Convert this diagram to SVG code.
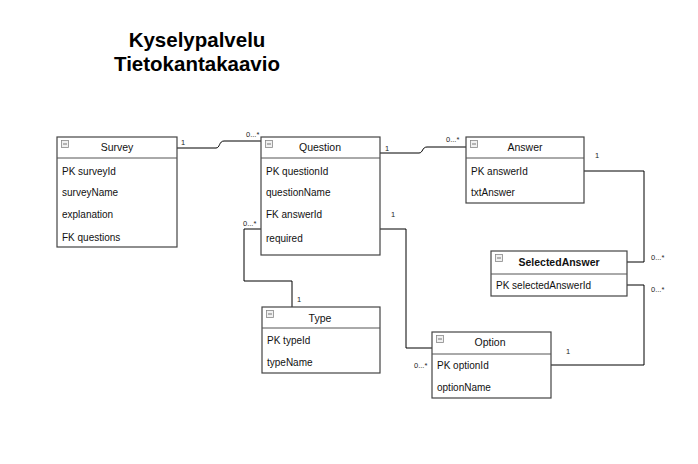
<svg xmlns="http://www.w3.org/2000/svg" width="698" height="464" viewBox="0 0 698 464">
<style>
.box{fill:#fff;stroke:#444;stroke-width:1.2}
.sep{stroke:#555;stroke-width:1}
.t{font-family:"Liberation Sans",Arial,sans-serif;font-size:10px;fill:#111}
.h{font-family:"Liberation Sans",Arial,sans-serif;font-size:10.5px;fill:#111;text-anchor:middle}
.hb{font-weight:bold}
.lbl{font-family:"Liberation Sans",Arial,sans-serif;font-size:7.5px;fill:#222}
.title{font-family:"Liberation Sans",Arial,sans-serif;font-size:20.5px;font-weight:bold;fill:#000;text-anchor:middle}
.ico{fill:#f0f0f0;stroke:#888;stroke-width:0.8}
.icl{stroke:#777;stroke-width:1}
.c{fill:none;stroke:#000;stroke-width:1}
</style>
<defs>
<g id="icon"><rect class="ico" x="0.5" y="0.5" width="7" height="7"/><line class="icl" x1="2" y1="4" x2="6" y2="4"/></g>
</defs>
<rect width="698" height="464" fill="#fff"/>
<text class="title" x="197" y="47">Kyselypalvelu</text>
<text class="title" x="197" y="71">Tietokantakaavio</text>

<g id="connectors">
<path class="c" d="M177 148 H216 C220 148 219 141 224 141 H261"/>
<path class="c" d="M380 153 H419 C423 153 422 147 427 147 H466"/>
<path class="c" d="M584 171 H644 V262 H627"/>
<path class="c" d="M627 285 H644 V365 H551"/>
<path class="c" d="M380 229 H406 V348 H432"/>
<path class="c" d="M261 229 H244 V281 H292 V307"/>
<text class="lbl" x="181" y="145">1</text>
<text class="lbl" x="246" y="137">0...*</text>
<text class="lbl" x="385" y="151">1</text>
<text class="lbl" x="446" y="142">0...*</text>
<text class="lbl" x="595" y="158">1</text>
<text class="lbl" x="651" y="260">0...*</text>
<text class="lbl" x="651" y="292">0...*</text>
<text class="lbl" x="566" y="354">1</text>
<text class="lbl" x="391" y="217">1</text>
<text class="lbl" x="414" y="368">0...*</text>
<text class="lbl" x="243" y="226">0...*</text>
<text class="lbl" x="297" y="302">1</text>
</g>

<g id="survey">
<rect class="box" x="57" y="137" width="120" height="110"/>
<line class="sep" x1="57" y1="158" x2="177" y2="158"/>
<use href="#icon" x="61" y="140"/>
<text class="h" x="117" y="151">Survey</text>
<text class="t" x="62" y="175">PK surveyId</text>
<text class="t" x="62" y="196">surveyName</text>
<text class="t" x="62" y="218">explanation</text>
<text class="t" x="62" y="241">FK questions</text>
</g>

<g id="question">
<rect class="box" x="261" y="137" width="119" height="118"/>
<line class="sep" x1="261" y1="158" x2="380" y2="158"/>
<use href="#icon" x="265" y="140"/>
<text class="h" x="320" y="151">Question</text>
<text class="t" x="266" y="175">PK questionId</text>
<text class="t" x="266" y="196">questionName</text>
<text class="t" x="266" y="218">FK answerId</text>
<text class="t" x="266" y="242">required</text>
</g>

<g id="answer">
<rect class="box" x="466" y="137" width="118" height="66"/>
<line class="sep" x1="466" y1="158" x2="584" y2="158"/>
<use href="#icon" x="470" y="140"/>
<text class="h" x="525" y="151">Answer</text>
<text class="t" x="471" y="175">PK answerId</text>
<text class="t" x="471" y="196">txtAnswer</text>
</g>

<g id="selectedanswer">
<rect class="box" x="491" y="251" width="136" height="45"/>
<line class="sep" x1="491" y1="274" x2="627" y2="274"/>
<use href="#icon" x="495" y="254"/>
<text class="h hb" x="559" y="266">SelectedAnswer</text>
<text class="t" x="496" y="289">PK selectedAnswerId</text>
</g>

<g id="type">
<rect class="box" x="262" y="307" width="118" height="66"/>
<line class="sep" x1="262" y1="328" x2="380" y2="328"/>
<use href="#icon" x="266" y="310"/>
<text class="h" x="320" y="322">Type</text>
<text class="t" x="267" y="344">PK typeId</text>
<text class="t" x="267" y="366">typeName</text>
</g>

<g id="option">
<rect class="box" x="432" y="332" width="119" height="66"/>
<line class="sep" x1="432" y1="354" x2="551" y2="354"/>
<use href="#icon" x="436" y="335"/>
<text class="h" x="490" y="346">Option</text>
<text class="t" x="437" y="369">PK optionId</text>
<text class="t" x="437" y="391">optionName</text>
</g>
</svg>
